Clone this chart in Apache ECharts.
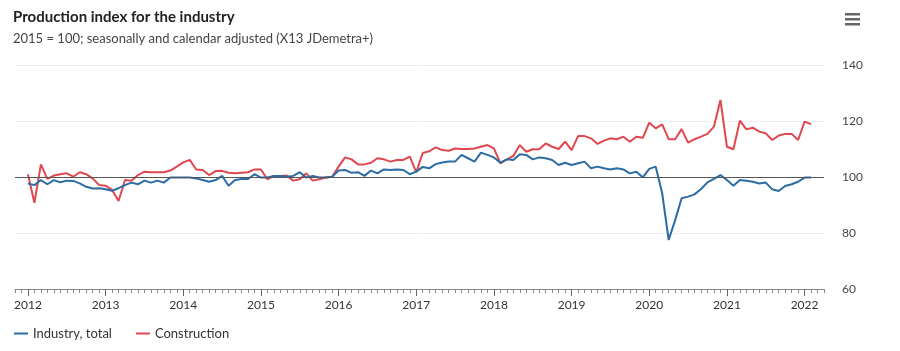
<!DOCTYPE html>
<html>
<head>
<meta charset="utf-8">
<script src="https://cdn.jsdelivr.net/npm/echarts@6/dist/echarts.min.js"></script>
<style>
  html, body { margin: 0; padding: 0; background: #fff; }
  #chart { width: 900px; height: 351px; }
</style>
</head>
<body>
<div id="chart"></div>
<script>
// monthly values, Jan 2012 .. Feb 2022
const industry = [
  97.7, 97.1, 98.9, 97.4, 98.9, 98.1, 98.7, 98.6, 97.7, 96.5, 95.9, 96.0,
  95.6, 95.1, 96.0, 97.1, 98.0, 97.4, 98.7, 98.0, 98.7, 98.0, 99.8, 99.8,
  99.8, 99.8, 99.5, 98.9, 98.3, 98.9, 100.4, 96.9, 98.9, 99.3, 99.3, 101.0,
  99.8, 99.8, 100.4, 100.4, 100.1, 100.4, 101.7, 99.8, 100.4, 99.8, 99.8, 100.1,
  102.3, 102.5, 101.5, 101.7, 100.4, 102.3, 101.3, 102.7, 102.5, 102.7, 102.5, 101.0,
  101.9, 103.6, 103.1, 104.6, 105.2, 105.5, 105.5, 107.9, 106.7, 105.5, 108.7, 107.9,
  107.0, 105.1, 106.3, 106.1, 108.1, 107.9, 106.3, 107.0, 106.7, 106.1, 104.3, 105.1,
  104.3, 104.9, 105.5, 103.1, 103.7, 103.1, 102.7, 103.1, 102.7, 101.3, 101.9, 99.9,
  102.9, 103.7, 94.2, 77.5, 84.6, 92.4, 93.0, 93.8, 95.7, 98.1, 99.3, 100.7,
  98.9, 96.9, 98.9, 98.7, 98.3, 97.7, 98.0, 95.6, 95.0, 96.8, 97.4, 98.3,
  99.8, 99.8
];
const construction = [
  101.0, 90.8, 104.5, 99.3, 100.5, 101.0, 101.3, 100.1, 101.7, 101.0, 99.5, 97.1,
  96.9, 95.4, 91.4, 98.9, 98.7, 100.7, 101.9, 101.7, 101.7, 101.7, 102.3, 103.7,
  105.2, 106.1, 102.7, 102.5, 100.7, 102.1, 102.2, 101.5, 101.3, 101.5, 101.7, 102.7,
  102.7, 99.2, 100.4, 100.4, 100.5, 98.7, 99.2, 101.3, 98.7, 99.2, 99.8, 100.1,
  103.7, 107.0, 106.3, 104.5, 104.5, 105.1, 106.7, 106.3, 105.5, 106.1, 106.1, 107.3,
  101.7, 108.6, 109.2, 110.6, 109.6, 109.4, 110.2, 110.0, 110.0, 110.2, 110.8, 111.4,
  110.2, 104.9, 106.3, 107.5, 111.4, 109.0, 109.9, 109.9, 112.0, 110.8, 110.0, 112.6,
  109.6, 114.6, 114.6, 113.8, 111.8, 113.0, 113.8, 113.5, 114.4, 112.6, 114.4, 114.0,
  119.4, 117.4, 118.8, 113.5, 113.5, 117.1, 112.3, 113.5, 114.4, 115.4, 118.0, 127.5,
  110.8, 109.9, 120.1, 117.0, 117.6, 116.2, 115.6, 113.2, 114.8, 115.4, 115.4, 113.2,
  119.8, 118.9
];
const yTicks = [60, 80, 100, 120, 140];

// axis runs Nov 2011 .. Apr 2022, data starts Jan 2012
const months = [];
for (let y = 2011; y <= 2022; y++) {
  for (let m = 1; m <= 12; m++) {
    if ((y === 2011 && m < 11) || (y === 2022 && m > 4)) continue;
    months.push(y + '-' + String(m).padStart(2, '0'));
  }
}
const pad = arr => months.map((_, i) => (i >= 2 && i - 2 < arr.length ? arr[i - 2] : null));
const isJan = (i) => months[i].endsWith('-01');

const font = 'Lato, "Noto Sans", sans-serif';
const chart = echarts.init(document.getElementById('chart'));
chart.setOption({
  animation: false,
  backgroundColor: '#fff',
  textStyle: { fontFamily: font },
  title: {
    text: 'Production index for the industry',
    subtext: '2015 = 100; seasonally and calendar adjusted (X13 JDemetra+)',
    left: 8, top: 5, itemGap: 7,
    textStyle: { fontFamily: font, fontSize: 15, fontWeight: 'bold', color: '#222' },
    subtextStyle: { fontFamily: font, fontSize: 13, color: '#444' }
  },
  graphic: [
    { type: 'rect', left: 845, top: 13, shape: { width: 15, height: 2.5 }, style: { fill: '#666' } },
    { type: 'rect', left: 845, top: 18, shape: { width: 15, height: 2.5 }, style: { fill: '#666' } },
    { type: 'rect', left: 845, top: 23, shape: { width: 15, height: 2.5 }, style: { fill: '#666' } }
  ],
  legend: {
    left: 9, bottom: 6, icon: 'rect', itemWidth: 14, itemHeight: 2, itemGap: 24,
    textStyle: { fontFamily: font, fontSize: 13, color: '#333' },
    data: ['Industry, total', 'Construction']
  },
  grid: { left: 15, right: 76, top: 65, bottom: 62 },
  xAxis: [{
    type: 'category', data: months, boundaryGap: false,
    axisLine: { lineStyle: { color: '#888' } },
    axisTick: { interval: 0, length: 4, lineStyle: { color: '#888' } },
    axisLabel: { interval: (i) => isJan(i), formatter: v => v.slice(0, 4), color: '#333', fontSize: 12, margin: 10 },
    splitLine: { show: false }
  }, {
    type: 'category', data: months, boundaryGap: false, position: 'bottom',
    axisLine: { show: false },
    axisTick: { interval: (i) => isJan(i), length: 7, lineStyle: { color: '#666' } },
    axisLabel: { show: false }
  }],
  yAxis: {
    type: 'value', position: 'right', min: yTicks[0], max: yTicks[yTicks.length - 1], interval: 20,
    axisLine: { show: false }, axisTick: { show: false },
    axisLabel: { color: '#444', fontSize: 12, margin: 18, align: 'left' },
    splitLine: { lineStyle: { color: '#eee' } }
  },
  series: [{
    name: 'Industry, total', type: 'line', data: pad(industry), showSymbol: false,
    itemStyle: { color: '#2c6ca4' }, lineStyle: { color: '#2c6ca4', width: 2 },
    markLine: { silent: true, symbol: 'none', label: { show: false },
      lineStyle: { color: '#555', width: 1, type: 'solid' }, data: [{ yAxis: 100 }] },
    z: 3
  }, {
    name: 'Construction', type: 'line', data: pad(construction), showSymbol: false,
    itemStyle: { color: '#e0474f' }, lineStyle: { color: '#e0474f', width: 2 }, z: 2
  }]
});
</script>
</body>
</html>
